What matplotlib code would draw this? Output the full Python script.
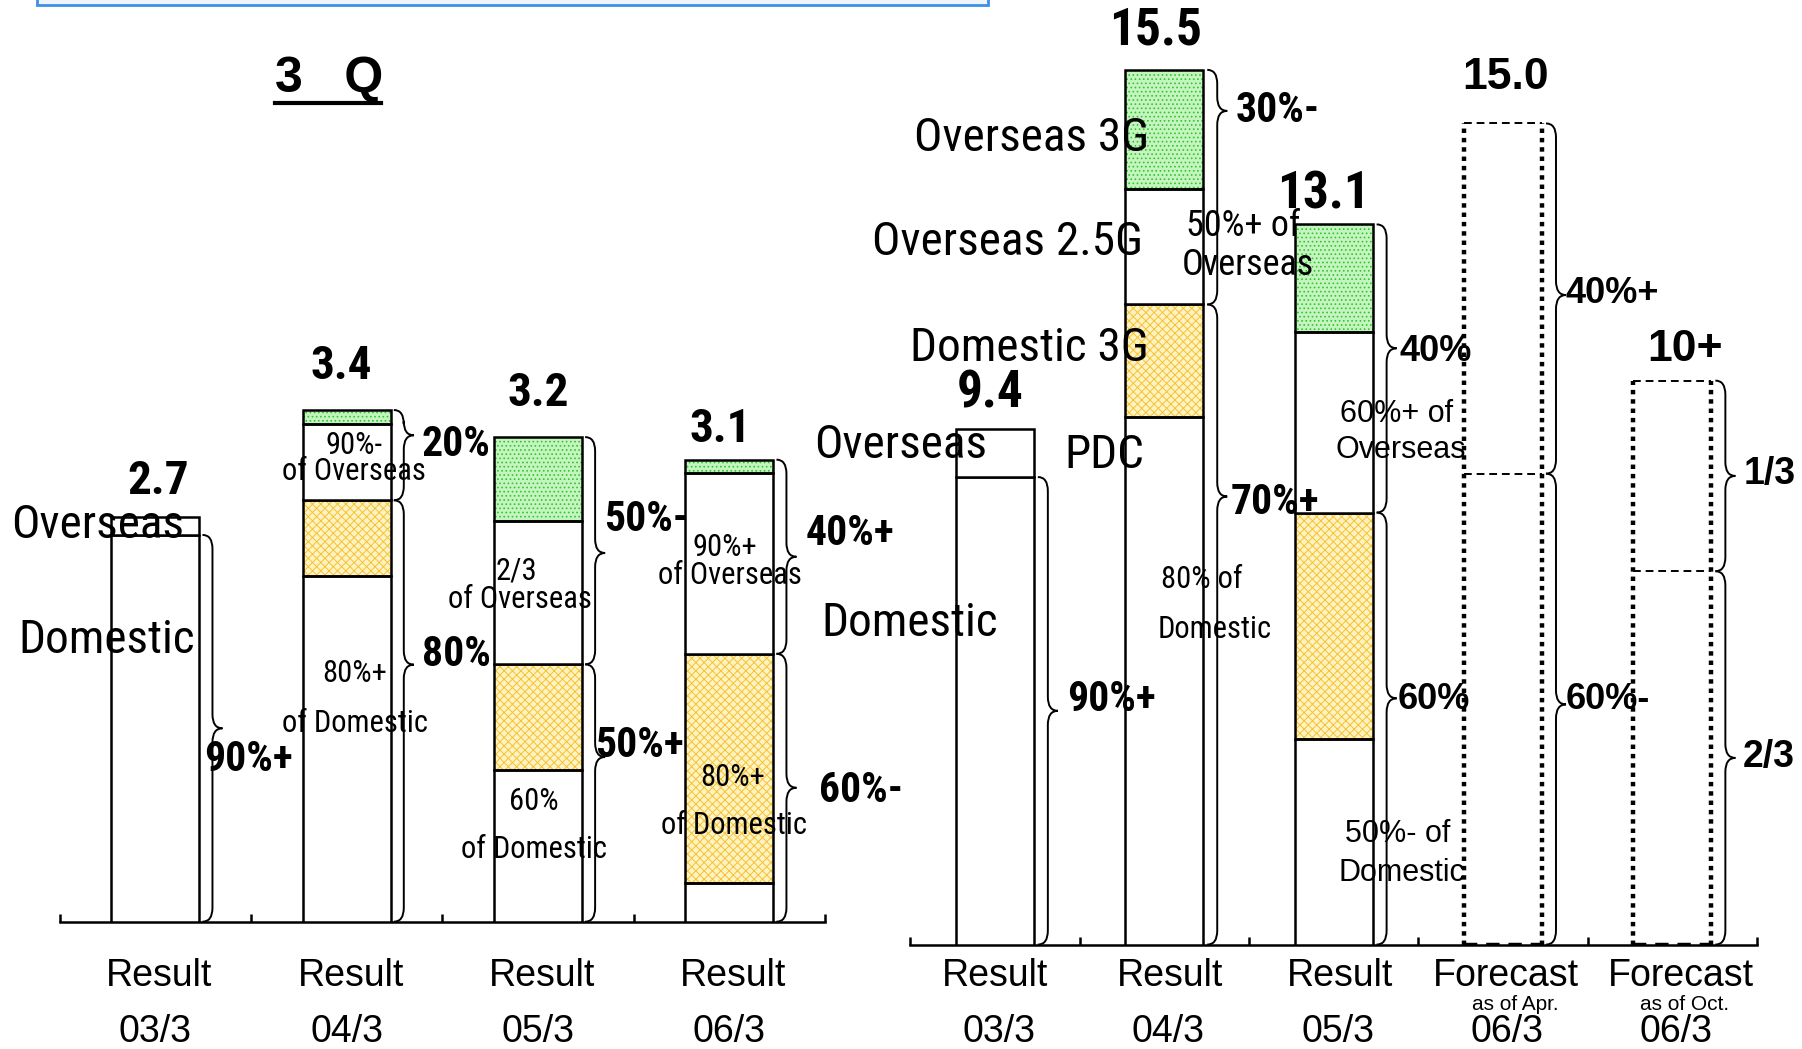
import matplotlib
matplotlib.use('Agg')
import matplotlib.pyplot as plt
import matplotlib.transforms as mtransforms
from matplotlib import font_manager as fm
from matplotlib.path import Path
from matplotlib.patches import PathPatch, Rectangle
from matplotlib.lines import Line2D
import numpy as np

W, H = 1802, 1049

# ---------------- data ----------------
# left panel: 3Q results (stack: PDC, domestic 3G, overseas 2.5G, overseas 3G)
left_cats = ['03/3', '04/3', '05/3', '06/3']
left_pdc = [2.57, 2.30, 1.01, 0.26]
left_dom3g = [0.0, 0.50, 0.70, 1.52]
left_ovs25 = [0.12, 0.51, 0.95, 1.20]
left_ovs3g = [0.0, 0.09, 0.56, 0.09]
left_totals = ['2.7', '3.4', '3.2', '3.1']

# right panel: full year results + forecasts
right_cats = ['03/3', '04/3', '05/3', '06/3', '06/3']
right_kind = ['Result', 'Result', 'Result', 'Forecast', 'Forecast']
right_sub = ['', '', '', 'as of Apr.', 'as of Oct.']
right_pdc = [8.29, 9.35, 3.65]
right_dom3g = [0.0, 2.00, 4.01]
right_ovs25 = [0.86, 2.04, 3.20]
right_ovs3g = [0.0, 2.12, 1.91]
fc_dom = [8.35, 6.62]
fc_ovs = [6.21, 3.38]
right_totals = ['9.4', '15.5', '13.1', '15.0', '10+']


def pick_narrow():
    for fam in ['Liberation Sans Narrow', 'Arial Narrow', 'Roboto Condensed']:
        try:
            fm.findfont(fm.FontProperties(family=fam), fallback_to_default=False)
            return {'family': fam}
        except ValueError:
            pass
    p = fm.findfont(fm.FontProperties(family='DejaVu Sans', stretch='condensed'))
    if 'Condensed' in p:
        return {'family': 'DejaVu Sans', 'stretch': 'condensed'}
    return {'family': 'Liberation Sans'}


NARROW = pick_narrow()
ARIAL = {'family': 'Liberation Sans'}

fig = plt.figure(figsize=(W / 100, H / 100), dpi=100)
figpx = mtransforms.Affine2D().scale(1.0 / W, -1.0 / H).translate(0, 1) + fig.transFigure

GREEN_FACE, GREEN_HATCH = '#c6f4c0', '#2ec82e'
YEL_FACE, YEL_HATCH = '#fff3c4', '#f6c232'
plt.rcParams['hatch.linewidth'] = 0.7


def make_axes(x0, x1, ybase, ppy, n):
    ax = fig.add_axes([x0 / W, 1 - ybase / H, (x1 - x0) / W, ybase / H])
    ax.set_xlim(-0.5, n - 0.5)
    ax.set_ylim(0, ybase / ppy)
    ax.patch.set_visible(False)
    for s in ['left', 'top', 'right']:
        ax.spines[s].set_visible(False)
    ax.spines['bottom'].set_linewidth(1.8)
    ax.set_yticks([])
    ax.set_xticks(np.arange(-0.5, n, 1.0))
    ax.set_xticklabels([])
    ax.tick_params(axis='x', direction='in', length=6, width=1.8)
    return ax


def stack_bounds(*segs):
    arr = np.vstack([np.zeros(len(segs[0]))] + [np.asarray(s, float) for s in segs])
    return np.cumsum(arr, axis=0)


def draw_stack(ax, x, segs, width):
    bounds = stack_bounds(*segs)
    styles = [('white', None, None), (YEL_FACE, YEL_HATCH, 'xxxx'),
              ('white', None, None), (GREEN_FACE, GREEN_HATCH, '....')]
    for k, seg in enumerate(segs):
        seg = np.asarray(seg, float)
        m = seg > 0
        face, hcol, hatch = styles[k]
        if hatch:
            ax.bar(x[m], seg[m], width, bottom=bounds[k][m], color=face,
                   edgecolor=hcol, hatch=hatch, linewidth=0, zorder=2)
        ax.bar(x[m], seg[m], width, bottom=bounds[k][m], fill=(hatch is None),
               facecolor='white', edgecolor='black', linewidth=1.8, zorder=3)
    return bounds


def brace(ax, ppx, ppy, x, y0, y1, frac, w_px=20, r_px=14):
    w = w_px / ppx
    xm, xt = x + w / 2, x + w
    yt = y0 + frac * (y1 - y0)
    r = min(r_px / ppy, 0.25 * (y1 - y0))
    verts = [(x, y0), (xm, y0), (xm, y0 + r), (xm, yt - r), (xm, yt), (xt, yt),
             (xm, yt), (xm, yt + r), (xm, y1 - r), (xm, y1), (x, y1)]
    codes = [Path.MOVETO, Path.CURVE3, Path.CURVE3, Path.LINETO, Path.CURVE3, Path.CURVE3,
             Path.CURVE3, Path.CURVE3, Path.LINETO, Path.CURVE3, Path.CURVE3]
    ax.add_patch(PathPatch(Path(verts, codes), fill=False, lw=1.4, color='black',
                           clip_on=False, zorder=4))
    return xt, yt


def brace_label(ax, ppx, ppy, xt, yt, text, dx, dy, font, size):
    ax.text(xt + dx / ppx, yt - dy / ppy, text, ha='left', va='center', fontsize=size,
            fontweight='bold', clip_on=False, zorder=6, **font)


# ---------------- left panel ----------------
L_PPX, L_PPY = (825.1 - 59.8) / 4, 150.5
axL = make_axes(59.8, 825.1, 921.7, L_PPY, 4)
xl = np.arange(len(left_cats))
BW = 0.46
bl = draw_stack(axL, xl, [left_pdc, left_dom3g, left_ovs25, left_ovs3g], BW)

top_pad_l = [(3, 36), (-6, 44), (0, 44), (-9, 31)]
for i, t in enumerate(left_totals):
    dx, dy = top_pad_l[i]
    axL.text(xl[i] + dx / L_PPX, bl[-1][i] + dy / L_PPY, t, ha='center', va='center',
             fontsize=34, fontweight='bold', clip_on=False, **NARROW)

left_braces = [(0, 0, 2, 0.50, '90%+', -18, 31), (1, 2, 4, 0.72, '20%', 8, 9),
               (1, 0, 2, 0.61, '80%', 8, -10), (2, 2, 4, 0.49, '50%-', -1, -33),
               (2, 0, 2, 0.64, '50%+', -10, -11), (3, 2, 4, 0.50, '40%+', 9, -23),
               (3, 0, 2, 0.50, '60%-', 23, 3)]
for i, a, b, f, lab, dx, dy in left_braces:
    xs = xl[i] + BW / 2 + 3 / L_PPX
    xt, yt = brace(axL, L_PPX, L_PPY, xs, bl[a][i], bl[b][i], f)
    brace_label(axL, L_PPX, L_PPY, xt, yt, lab, dx, dy, NARROW, 30)

left_notes = [(1, 445, '90%-', 7), (1, 472, 'of Overseas', 7), (1, 673, '80%+', 8),
              (1, 723, 'of Domestic', 8), (2, 571, '2/3', -22), (2, 599, 'of Overseas', -18),
              (2, 801, '60%', -4), (2, 850, 'of Domestic', -4), (3, 548, '90%+', -5),
              (3, 576, 'of Overseas', 0), (3, 777, '80%+', 3), (3, 826, 'of Domestic', 5)]
trL = mtransforms.blended_transform_factory(axL.transData, figpx)
for i, py, s, dx in left_notes:
    axL.text(xl[i] + dx / L_PPX, py, s, transform=trL, ha='center', va='center',
             fontsize=22, clip_on=False, zorder=6, **NARROW)

for i, c in enumerate(left_cats):
    axL.text(xl[i] + 4 / L_PPX, 976, 'Result', transform=trL, ha='center', va='center',
             fontsize=27, clip_on=False, **ARIAL)
    axL.text(xl[i], 1032, c, transform=trL, ha='center', va='center',
             fontsize=27, clip_on=False, **ARIAL)

# ---------------- right panel ----------------
R_PPX, R_PPY = (1757.1 - 910.2) / 5, 56.4
axR = make_axes(910.2, 1757.1, 944.6, R_PPY, 5)
xr = np.arange(len(right_cats))
br = draw_stack(axR, xr[:3], [right_pdc, right_dom3g, right_ovs25, right_ovs3g], BW)

# forecast boxes
xf = xr[3:]
fb = stack_bounds(fc_dom, fc_ovs)
for j in range(len(xf)):
    axR.vlines([xf[j] - BW / 2, xf[j] + BW / 2], 0, fb[2][j], colors='black',
               linestyles=(0, (1, 1.1)), linewidth=3.2, zorder=3)
    axR.hlines([fb[1][j], fb[2][j]], xf[j] - BW / 2, xf[j] + BW / 2, colors='black',
               linestyles=(0, (4, 2.5)), linewidth=1.4, zorder=3)
    axR.hlines(0, xf[j] - BW / 2, xf[j] + BW / 2, colors='black',
               linestyles=(0, (3, 2)), linewidth=3.2, zorder=3)

tops_r = list(br[-1]) + list(fb[2])
top_pad_r = [(-5, 35), (-9, 39), (-10, 30), (3, 46), (13, 31)]
for i, t in enumerate(right_totals):
    font = NARROW if i < 3 else ARIAL
    size = 37 if i < 3 else 32
    dx, dy = top_pad_r[i]
    axR.text(xr[i] + dx / R_PPX, tops_r[i] + dy / R_PPY, t, ha='center', va='center',
             fontsize=size, fontweight='bold', clip_on=False, **font)


def bnd(i, k):
    if i < 3:
        return br[k][i]
    return fb[k // 2][i - 3]


right_braces = [(0, 0, 2, 0.50, '90%+', 9, -11, NARROW, 30),
                (1, 2, 4, 0.825, '30%-', 8, 0, NARROW, 30),
                (1, 0, 2, 0.70, '70%+', 3, 6, NARROW, 30),
                (2, 2, 4, 0.57, '40%', 3, 3, ARIAL, 26),
                (2, 0, 2, 0.57, '60%', 1, 1, ARIAL, 26),
                (3, 2, 4, 0.51, '40%+', 0, -2, ARIAL, 26),
                (3, 0, 2, 0.51, '60%-', 0, -5, ARIAL, 26),
                (4, 2, 4, 0.50, '1/3', 8, -2, ARIAL, 27),
                (4, 0, 2, 0.50, '2/3', 7, -1, ARIAL, 27)]
for i, a, b, f, lab, dx, dy, font, size in right_braces:
    xs = xr[i] + BW / 2 + 4 / R_PPX
    xt, yt = brace(axR, R_PPX, R_PPY, xs, bnd(i, a), bnd(i, b), f)
    brace_label(axR, R_PPX, R_PPY, xt, yt, lab, dx, dy, font, size)

trR = mtransforms.blended_transform_factory(axR.transData, figpx)
right_notes = [(1, 226, '50%+ of', 79, NARROW, 26), (1, 265, 'Overseas', 84, NARROW, 26),
               (1, 579, '80% of', 37, NARROW, 22), (1, 630, 'Domestic', 50, NARROW, 22),
               (2, 414, '60%+ of', 63, ARIAL, 22), (2, 450, 'Overseas', 67, ARIAL, 22),
               (2, 834, '50%- of', 64, ARIAL, 22), (2, 873, 'Domestic', 68, ARIAL, 22)]
for i, py, s, dx, font, size in right_notes:
    axR.text(xr[i] + dx / R_PPX, py, s, transform=trR, ha='center', va='center',
             fontsize=size, clip_on=False, zorder=6, **font)

kind_dx = [0, 6, 6, 3, 9]
for i in range(len(right_cats)):
    axR.text(xr[i] + kind_dx[i] / R_PPX, 976, right_kind[i], transform=trR, ha='center',
             va='center', fontsize=27, clip_on=False, **ARIAL)
    if right_sub[i]:
        axR.text(xr[i] + 12 / R_PPX, 1004, right_sub[i], transform=trR, ha='center',
                 va='center', fontsize=15, clip_on=False, **ARIAL)
    axR.text(xr[i] + 4 / R_PPX, 1032, right_cats[i], transform=trR, ha='center',
             va='center', fontsize=27, clip_on=False, **ARIAL)

# ---------------- floating segment labels ----------------
float_labels = [(11, 525, 'Overseas', 'left'), (18, 640, 'Domestic', 'left'),
                (814, 445, 'Overseas', 'left'), (821, 623, 'Domestic', 'left'),
                (1064, 455, 'PDC', 'left'), (1149, 348, 'Domestic 3G', 'right'),
                (1143, 242, 'Overseas 2.5G', 'right'), (1149, 138, 'Overseas 3G', 'right')]
for px, py, s, ha in float_labels:
    fig.text(px, py, s, transform=figpx, ha=ha, va='center', fontsize=34,
             zorder=10, **NARROW)

# title and cut-off box at top
fig.text(329, 92, '3   Q', transform=figpx, ha='center', va='baseline', fontsize=36,
         fontweight='bold', **ARIAL)
fig.add_artist(Line2D([275, 381], [103, 103], transform=figpx, color='black', lw=3))
fig.add_artist(Rectangle((37, -10), 951, 15, transform=figpx, facecolor='#eef4fc',
                         edgecolor='#3d8fe8', lw=2))

fig.savefig('out.png', dpi=100)
